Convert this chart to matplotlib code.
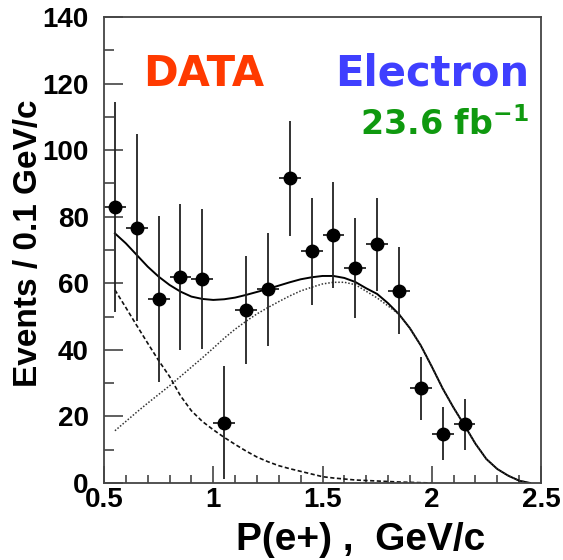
import numpy as np
import matplotlib
matplotlib.use('Agg')
import matplotlib.pyplot as plt
from matplotlib.ticker import MultipleLocator

plt.rcParams['font.family'] = ['Liberation Sans', 'DejaVu Sans']
plt.rcParams['mathtext.default'] = 'bf'

# data points (bin centres, events / 0.1 GeV/c, errors)
p_bins = [0.55, 0.65, 0.75, 0.85, 0.95, 1.05, 1.15, 1.25, 1.35,
          1.45, 1.55, 1.65, 1.75, 1.85, 1.95, 2.05, 2.15]
events = [83.0, 76.7, 55.3, 61.9, 61.3, 18.1, 52.0, 58.2, 91.5,
          69.6, 74.5, 64.5, 71.7, 57.8, 28.4, 14.8, 17.6]
ev_err = [31.5, 28.0, 25.0, 22.0, 21.0, 17.0, 16.3, 17.0, 17.2,
          16.0, 16.0, 15.0, 14.0, 13.0, 9.5, 8.0, 7.6]

# fitted curves
fit_p = [0.55, 0.60, 0.65, 0.70, 0.75, 0.80, 0.85, 0.90, 0.95, 1.00,
         1.05, 1.10, 1.15, 1.20, 1.25, 1.30, 1.35, 1.40, 1.45, 1.50,
         1.55, 1.60, 1.65, 1.70, 1.75, 1.80, 1.85, 1.90, 1.95, 2.00,
         2.05, 2.10, 2.15, 2.20, 2.25, 2.30, 2.35, 2.40, 2.45]
total = [75.0, 72.0, 68.5, 65.0, 62.0, 59.5, 57.5, 56.0, 55.3, 55.0,
         55.2, 55.7, 56.5, 57.4, 58.3, 59.3, 60.3, 61.2, 61.8, 62.2,
         62.2, 61.6, 60.4, 58.5, 56.8, 54.0, 50.7, 46.5, 41.3, 35.0,
         28.4, 22.6, 17.3, 11.8, 7.2, 4.2, 2.2, 0.7, 0.0]
signal = [15.7, 18.5, 21.3, 24.0, 26.6, 29.2, 32.0, 34.8, 37.6, 40.5,
          43.5, 46.2, 48.6, 50.8, 52.7, 54.5, 56.2, 57.7, 58.8, 59.8,
          60.3, 60.3, 59.6, 57.6, 55.6, 53.2, 50.7, 46.5, 41.3, 35.0,
          28.4, 22.6, 17.3, 11.8, 7.2, 4.2, 2.2, 0.7, 0.0]
bkg_p = fit_p[:30]
background = [58.0, 52.7, 47.3, 42.0, 36.8, 32.0, 26.2, 21.7, 18.5, 16.0,
              13.7, 11.6, 9.6, 7.8, 6.4, 5.2, 4.3, 3.5, 2.7, 1.9,
              1.5, 1.2, 0.9, 0.75, 0.6, 0.45, 0.3, 0.2, 0.1, 0.0]

fig = plt.figure(figsize=(5.63, 5.60), dpi=100)
ax = fig.add_axes([104/563, 1-483/560, (541-104)/563, (483-17)/560])

ax.plot(fit_p, total, color='black', lw=1.4)
ax.plot(fit_p, signal, color='#333333', lw=1.1, linestyle=(0, (1, 1.2)))
ax.plot(bkg_p, background, color='#111111', lw=1.2, linestyle=(0, (2.5, 1.5)))
ax.errorbar(p_bins, events, yerr=ev_err, xerr=0.05, fmt='o', color='black',
            ecolor='#222222', ms=9, elinewidth=1.3, capsize=0)

ax.set_xlim(0.5, 2.5)
ax.set_ylim(0, 140)
ax.xaxis.set_major_locator(MultipleLocator(0.5))
ax.xaxis.set_minor_locator(MultipleLocator(0.1))
ax.yaxis.set_major_locator(MultipleLocator(20))
ax.yaxis.set_minor_locator(MultipleLocator(10))
ax.xaxis.set_major_formatter(plt.FuncFormatter(lambda v, p: '%g' % v))
ax.tick_params(which='both', direction='in', top=False, right=False,
               color='#444444', width=1.2)
ax.tick_params(axis='y', which='major', length=14, pad=11, labelsize=20)
ax.tick_params(axis='y', which='minor', length=7)
ax.tick_params(axis='x', which='major', length=12, pad=3, labelsize=20)
ax.tick_params(axis='x', which='minor', length=6)
for lab in ax.get_xticklabels() + ax.get_yticklabels():
    lab.set_fontweight('bold')
for s in ax.spines.values():
    s.set_color('#444444')
    s.set_linewidth(1.3)

fig.text(485/563, 1-550/560, 'P(e+) ,  GeV/c', ha='right', va='baseline',
         fontsize=28, fontweight='bold')
fig.text(29/563, 1-243/560, 'Events / 0.1 GeV/c', rotation=90, ha='center',
         va='center', fontsize=24, fontweight='bold')

ax.text(0.229, 0.852, 'DATA', transform=ax.transAxes, ha='center', va='baseline',
        fontsize=30, fontweight='bold', color='#ff3a00', family='DejaVu Sans')
ax.text(0.75, 0.854, 'Electron', transform=ax.transAxes, ha='center', va='baseline',
        fontsize=30, fontweight='bold', color='#3f3fff', family='DejaVu Sans')
ax.text(0.78, 0.747, r'23.6 fb$^{-1}$', transform=ax.transAxes, ha='center',
        va='baseline', fontsize=24, fontweight='bold', color='#0f990f',
        family='DejaVu Sans')

plt.savefig('out.png', dpi=100)
